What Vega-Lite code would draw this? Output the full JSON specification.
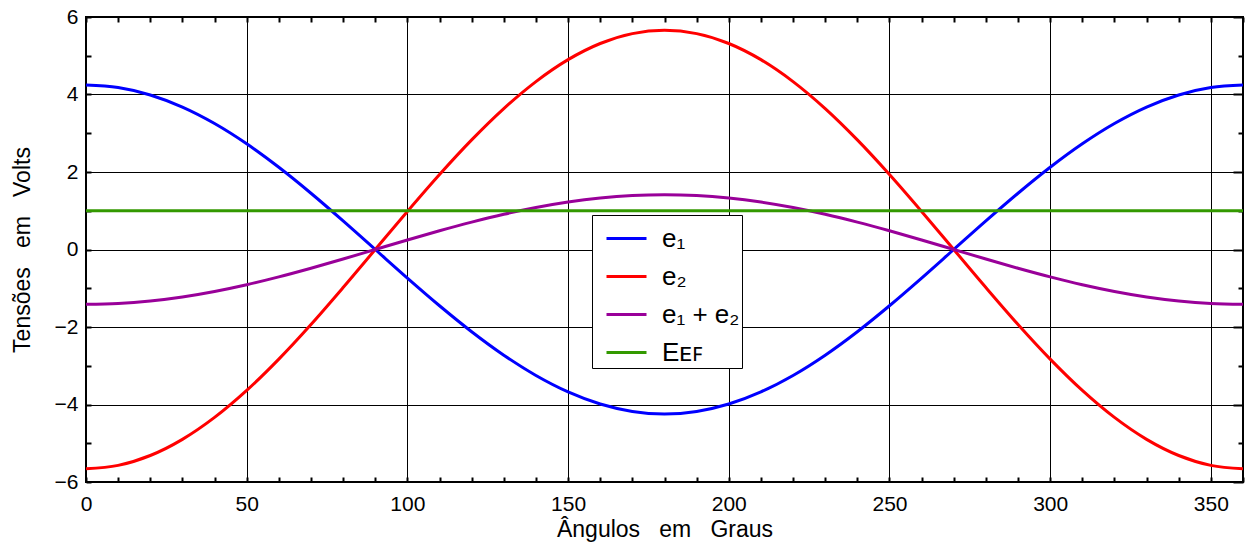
{
  "$schema": "https://vega.github.io/schema/vega-lite/v6.json",
  "width": 1157,
  "height": 465,
  "autosize": "none",
  "padding": {"left": 86, "top": 17, "right": 2, "bottom": 68},
  "config": {
    "font": "Liberation Sans",
    "view": {"stroke": "black", "strokeWidth": 2},
    "axis": {
      "domain": false,
      "grid": true,
      "gridColor": "black",
      "gridWidth": 1,
      "tickColor": "black",
      "tickWidth": 2,
      "tickSize": -5,
      "labelFontSize": 21,
      "labelColor": "black",
      "labelFlush": false,
      "labelOverlap": false,
      "titleFontSize": 23,
      "titleFontWeight": "normal",
      "titleColor": "black"
    }
  },
  "data": {
    "values": [
      {"a": 0, "e1": 4.243, "e2": -5.657, "e12": -1.414, "EEF": 1},
      {"a": 10, "e1": 4.178, "e2": -5.571, "e12": -1.393, "EEF": 1},
      {"a": 20, "e1": 3.987, "e2": -5.316, "e12": -1.329, "EEF": 1},
      {"a": 30, "e1": 3.674, "e2": -4.899, "e12": -1.225, "EEF": 1},
      {"a": 40, "e1": 3.25, "e2": -4.333, "e12": -1.083, "EEF": 1},
      {"a": 50, "e1": 2.727, "e2": -3.636, "e12": -0.909, "EEF": 1},
      {"a": 60, "e1": 2.121, "e2": -2.828, "e12": -0.707, "EEF": 1},
      {"a": 70, "e1": 1.451, "e2": -1.935, "e12": -0.484, "EEF": 1},
      {"a": 80, "e1": 0.737, "e2": -0.982, "e12": -0.246, "EEF": 1},
      {"a": 90, "e1": 0, "e2": 0, "e12": 0, "EEF": 1},
      {"a": 100, "e1": -0.737, "e2": 0.982, "e12": 0.246, "EEF": 1},
      {"a": 110, "e1": -1.451, "e2": 1.935, "e12": 0.484, "EEF": 1},
      {"a": 120, "e1": -2.121, "e2": 2.828, "e12": 0.707, "EEF": 1},
      {"a": 130, "e1": -2.727, "e2": 3.636, "e12": 0.909, "EEF": 1},
      {"a": 140, "e1": -3.25, "e2": 4.333, "e12": 1.083, "EEF": 1},
      {"a": 150, "e1": -3.674, "e2": 4.899, "e12": 1.225, "EEF": 1},
      {"a": 160, "e1": -3.987, "e2": 5.316, "e12": 1.329, "EEF": 1},
      {"a": 170, "e1": -4.178, "e2": 5.571, "e12": 1.393, "EEF": 1},
      {"a": 180, "e1": -4.243, "e2": 5.657, "e12": 1.414, "EEF": 1},
      {"a": 190, "e1": -4.178, "e2": 5.571, "e12": 1.393, "EEF": 1},
      {"a": 200, "e1": -3.987, "e2": 5.316, "e12": 1.329, "EEF": 1},
      {"a": 210, "e1": -3.674, "e2": 4.899, "e12": 1.225, "EEF": 1},
      {"a": 220, "e1": -3.25, "e2": 4.333, "e12": 1.083, "EEF": 1},
      {"a": 230, "e1": -2.727, "e2": 3.636, "e12": 0.909, "EEF": 1},
      {"a": 240, "e1": -2.121, "e2": 2.828, "e12": 0.707, "EEF": 1},
      {"a": 250, "e1": -1.451, "e2": 1.935, "e12": 0.484, "EEF": 1},
      {"a": 260, "e1": -0.737, "e2": 0.982, "e12": 0.246, "EEF": 1},
      {"a": 270, "e1": 0, "e2": 0, "e12": 0, "EEF": 1},
      {"a": 280, "e1": 0.737, "e2": -0.982, "e12": -0.246, "EEF": 1},
      {"a": 290, "e1": 1.451, "e2": -1.935, "e12": -0.484, "EEF": 1},
      {"a": 300, "e1": 2.121, "e2": -2.828, "e12": -0.707, "EEF": 1},
      {"a": 310, "e1": 2.727, "e2": -3.636, "e12": -0.909, "EEF": 1},
      {"a": 320, "e1": 3.25, "e2": -4.333, "e12": -1.083, "EEF": 1},
      {"a": 330, "e1": 3.674, "e2": -4.899, "e12": -1.225, "EEF": 1},
      {"a": 340, "e1": 3.987, "e2": -5.316, "e12": -1.329, "EEF": 1},
      {"a": 350, "e1": 4.178, "e2": -5.571, "e12": -1.393, "EEF": 1},
      {"a": 360, "e1": 4.243, "e2": -5.657, "e12": -1.414, "EEF": 1}
    ]
  },
  "transform": [{"fold": ["e1", "e2", "e12", "EEF"], "as": ["s", "v"]}],
  "layer": [
    {
      "mark": {"type": "line", "strokeWidth": 3, "interpolate": "monotone"},
      "encoding": {
        "x": {
          "field": "a", "type": "quantitative",
          "scale": {"domain": [0, 360], "nice": false, "zero": false},
          "axis": {
            "orient": "bottom",
            "values": [0,10,20,30,40,50,60,70,80,90,100,110,120,130,140,150,160,170,180,190,200,210,220,230,240,250,260,270,280,290,300,310,320,330,340,350,360],
            "labelExpr": "datum.value % 50 === 0 ? datum.label : ''",
            "gridOpacity": {"condition": {"test": "datum.value % 50 === 0", "value": 1}, "value": 0},
            "labelPadding": 16,
            "title": "Ângulos\u00a0\u00a0\u00a0em\u00a0\u00a0\u00a0Graus",
            "titlePadding": 4
          }
        },
        "y": {
          "field": "v", "type": "quantitative",
          "scale": {"domain": [-6, 6], "nice": false, "zero": false},
          "axis": {
            "orient": "left",
            "values": [-6,-5,-4,-3,-2,-1,0,1,2,3,4,5,6],
            "labelExpr": "datum.value % 2 === 0 ? datum.label : ''",
            "gridOpacity": {"condition": {"test": "datum.value % 2 === 0", "value": 1}, "value": 0},
            "labelPadding": 13,
            "title": "Tensões\u00a0\u00a0\u00a0em\u00a0\u00a0\u00a0Volts",
            "titlePadding": 20
          }
        },
        "color": {
          "field": "s", "type": "nominal",
          "scale": {"domain": ["e1", "e2", "e12", "EEF"], "range": ["#0000ff", "#ff0000", "#990099", "#339900"]},
          "legend": {
            "orient": "none",
            "legendX": 506,
            "legendY": 198,
            "title": null,
            "symbolType": "stroke",
            "symbolSize": 1600,
            "symbolStrokeWidth": 3,
            "symbolOffset": 11,
            "labelFontSize": 26,
            "labelColor": "black",
            "labelOffset": 14,
            "labelLimit": 0,
            "rowPadding": 3,
            "padding": 2,
            "strokeColor": "black",
            "fillColor": "white",
            "labelExpr": "{'e1': 'e₁', 'e2': 'e₂', 'e12': 'e₁ + e₂', 'EEF': 'Eᴇꜰ'}[datum.label]"
          }
        }
      }
    },
    {
      "mark": {"type": "line", "opacity": 0},
      "encoding": {
        "x": {
          "field": "a", "type": "quantitative",
          "axis": {
            "orient": "top",
            "values": [0,10,20,30,40,50,60,70,80,90,100,110,120,130,140,150,160,170,180,190,200,210,220,230,240,250,260,270,280,290,300,310,320,330,340,350,360],
            "labels": false, "grid": false, "title": null
          }
        },
        "y": {
          "field": "v", "type": "quantitative",
          "axis": {
            "orient": "right",
            "values": [-6,-5,-4,-3,-2,-1,0,1,2,3,4,5,6],
            "tickSize": {"condition": {"test": "datum.value % 2 === 0", "value": -10}, "value": -5},
            "labels": false, "grid": false, "title": null
          }
        },
        "detail": {"field": "s"}
      }
    }
  ],
  "resolve": {"axis": {"x": "independent", "y": "independent"}}
}
